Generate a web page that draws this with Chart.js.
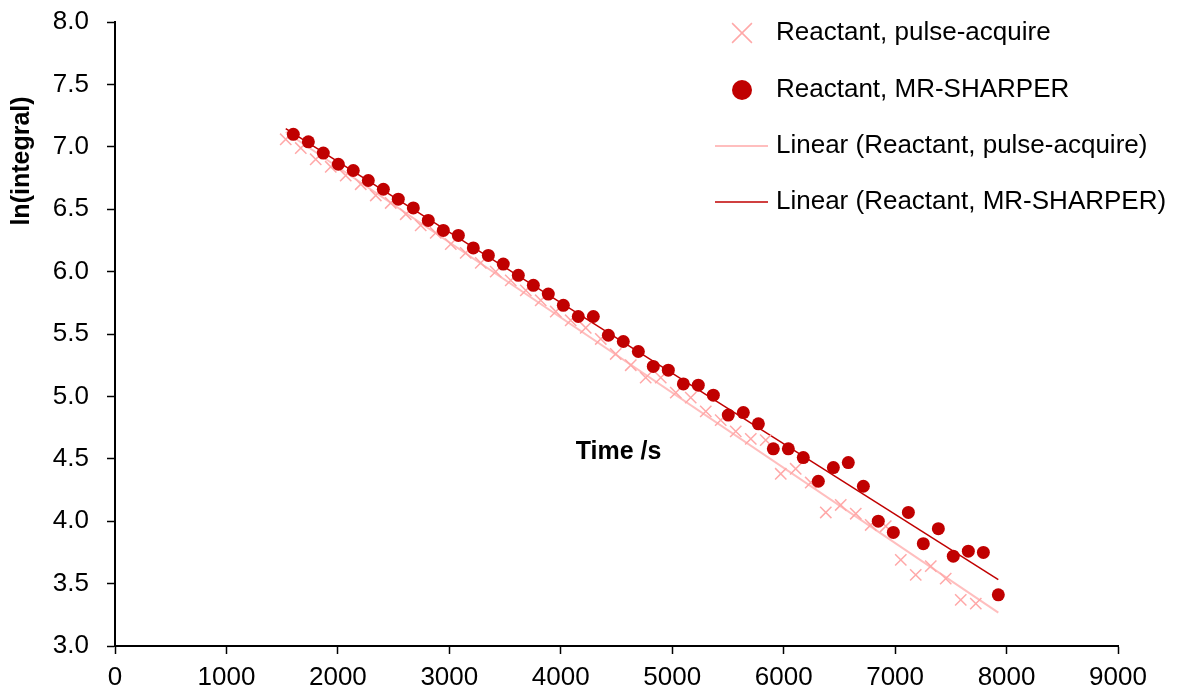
<!DOCTYPE html>
<html>
<head>
<meta charset="utf-8">
<script src="https://cdn.jsdelivr.net/npm/chart.js@4"></script>
<style>
    html, body { margin: 0; padding: 0; background: #fff; }
    #wrap { width: 1179px; height: 695px; position: relative; }
</style>
</head>
<body>
<div id="wrap"><canvas id="kineticsChart"></canvas></div>
<script>
// ln(integral) vs time for the reactant peak, two acquisition methods
const pulseTimes = [1532, 1667, 1801, 1936, 2070, 2205, 2340, 2474, 2609, 2743, 2878, 3013, 3147, 3282, 3416, 3551,
    3686, 3820, 3955, 4089, 4224, 4359, 4493, 4628, 4762, 4897, 5032, 5166, 5301, 5435, 5570, 5705,
    5839, 5974, 6108, 6243, 6378, 6512, 6647, 6781, 6916, 7051, 7185, 7320, 7454, 7589, 7724];
const pulseValues = [7.06, 6.99, 6.90, 6.84, 6.77, 6.70, 6.61, 6.55, 6.46, 6.37, 6.31, 6.22, 6.15, 6.07, 6.00, 5.93,
    5.85, 5.77, 5.68, 5.61, 5.55, 5.46, 5.34, 5.25, 5.15, 5.15, 5.03, 4.99, 4.88, 4.81, 4.72, 4.66,
    4.65, 4.38, 4.42, 4.31, 4.07, 4.13, 4.06, 3.97, 3.96, 3.69, 3.57, 3.64, 3.54, 3.37, 3.34];

const sharperTimes = [1600, 1735, 1869, 2004, 2138, 2273, 2408, 2542, 2677, 2811, 2946, 3081, 3215, 3350, 3484, 3619,
    3754, 3888, 4023, 4157, 4292, 4427, 4561, 4696, 4830, 4965, 5100, 5234, 5369, 5503, 5638, 5773,
    5907, 6042, 6176, 6311, 6446, 6580, 6715, 6849, 6984, 7119, 7253, 7388, 7522, 7657, 7792, 7926];
const sharperValues = [7.10, 7.04, 6.95, 6.86, 6.81, 6.73, 6.66, 6.58, 6.51, 6.41, 6.33, 6.29, 6.19, 6.13, 6.06, 5.97,
    5.89, 5.82, 5.73, 5.64, 5.64, 5.49, 5.44, 5.36, 5.24, 5.21, 5.10, 5.09, 5.01, 4.85, 4.87, 4.78,
    4.58, 4.58, 4.51, 4.32, 4.43, 4.47, 4.28, 4.00, 3.91, 4.07, 3.82, 3.94, 3.72, 3.76, 3.75, 3.41];

// span of the trendlines (s)
const fitRange = [1532, 7926];

const xTickValues = [0, 1000, 2000, 3000, 4000, 5000, 6000, 7000, 8000, 9000];
const yTickValues = [3.0, 3.5, 4.0, 4.5, 5.0, 5.5, 6.0, 6.5, 7.0, 7.5, 8.0];

const seriesNames = ['Reactant, pulse-acquire', 'Reactant, MR-SHARPER'];

const FONT = 'Liberation Sans, Arial, sans-serif';
const PINK = 'rgb(255, 168, 168)';
const PINK_LINE = 'rgb(255, 190, 190)';
const DARK_RED = 'rgb(192, 0, 0)';

function toPoints(xs, ys) {
    return xs.map((x, i) => ({ x: x, y: ys[i] }));
}

// least-squares straight line, evaluated at the ends of fitRange
function linearTrend(xs, ys) {
    const n = xs.length;
    let sx = 0, sy = 0, sxx = 0, sxy = 0;
    for (let i = 0; i < n; i++) {
        sx += xs[i]; sy += ys[i];
        sxx += xs[i] * xs[i]; sxy += xs[i] * ys[i];
    }
    const slope = (n * sxy - sx * sy) / (n * sxx - sx * sx);
    const intercept = (sy - slope * sx) / n;
    return fitRange.map(x => ({ x: x, y: intercept + slope * x }));
}

// keep the plot box where we put it: no extra room for end labels
function fixAxisPadding(axis) {
    axis.paddingTop = 0;
    axis.paddingBottom = 0;
    axis.paddingLeft = 0;
    axis.paddingRight = 0;
}

// axis titles and legend are placed by hand, the way the spreadsheet had them
const chartText = {
    id: 'chartText',
    afterDraw(chart) {
        const ctx = chart.ctx;
        const area = chart.chartArea;
        const ds = chart.data.datasets;
        ctx.save();
        ctx.fillStyle = '#000';
        ctx.textBaseline = 'middle';

        // y title
        ctx.font = 'bold 25px ' + FONT;
        ctx.save();
        ctx.translate(22, 161);
        ctx.rotate(-Math.PI / 2);
        ctx.textAlign = 'center';
        ctx.fillText('ln(integral)', 0, 0);
        ctx.restore();

        // x title sits inside the plot
        ctx.textAlign = 'center';
        ctx.fillText('Time /s', (area.left + area.right) / 2 + 2, 452);

        // legend
        ctx.font = '26px ' + FONT;
        ctx.textAlign = 'left';
        const textX = 776;
        const rows = [33, 90, 146, 202];
        const labels = [seriesNames[0], seriesNames[1],
            'Linear (' + seriesNames[0] + ')', 'Linear (' + seriesNames[1] + ')'];

        ctx.strokeStyle = ds[0].borderColor;
        ctx.lineWidth = ds[0].borderWidth;
        Chart.helpers.drawPoint(ctx, { pointStyle: 'crossRot', radius: 14, borderWidth: ds[0].borderWidth }, 742, rows[0]);

        ctx.fillStyle = ds[1].backgroundColor;
        ctx.strokeStyle = ds[1].borderColor;
        Chart.helpers.drawPoint(ctx, { pointStyle: 'circle', radius: 10, borderWidth: 0 }, 742, rows[1]);

        [2, 3].forEach(k => {
            ctx.beginPath();
            ctx.strokeStyle = ds[k].borderColor;
            ctx.lineWidth = ds[k].borderWidth;
            ctx.moveTo(715, rows[k]);
            ctx.lineTo(768, rows[k]);
            ctx.stroke();
        });

        ctx.fillStyle = '#000';
        labels.forEach((t, i) => ctx.fillText(t, textX, rows[i]));
        ctx.restore();
    }
};

Chart.defaults.font.family = FONT;
Chart.defaults.font.size = 26;
Chart.defaults.color = '#000';

const ctx = document.getElementById('kineticsChart').getContext('2d');
new Chart(ctx, {
    type: 'scatter',
    data: {
        datasets: [
            {
                label: seriesNames[0],
                data: toPoints(pulseTimes, pulseValues),
                pointStyle: 'crossRot',
                pointRadius: 8,
                borderColor: PINK,
                backgroundColor: PINK,
                borderWidth: 1.5,
                order: 2
            },
            {
                label: seriesNames[1],
                data: toPoints(sharperTimes, sharperValues),
                pointStyle: 'circle',
                pointRadius: 6.5,
                borderWidth: 0,
                borderColor: DARK_RED,
                backgroundColor: DARK_RED,
                order: 1
            },
            {
                label: 'Linear (' + seriesNames[0] + ')',
                data: linearTrend(pulseTimes, pulseValues),
                showLine: true,
                pointRadius: 0,
                borderColor: PINK_LINE,
                borderWidth: 2,
                order: 4
            },
            {
                label: 'Linear (' + seriesNames[1] + ')',
                data: linearTrend(sharperTimes, sharperValues),
                showLine: true,
                pointRadius: 0,
                borderColor: DARK_RED,
                borderWidth: 1.5,
                order: 3
            }
        ]
    },
    options: {
        responsive: true,
        maintainAspectRatio: false,
        animation: false,
        layout: { padding: { top: 22, right: 61, left: 0, bottom: 0 } },
        plugins: {
            legend: { display: false },
            tooltip: { enabled: false }
        },
        scales: {
            x: {
                type: 'linear',
                min: xTickValues[0],
                max: xTickValues[xTickValues.length - 1],
                afterBuildTicks: axis => { axis.ticks = xTickValues.map(v => ({ value: v })); },
                afterFit: axis => { axis.height = 49; fixAxisPadding(axis); },
                ticks: { padding: 8, maxRotation: 0, color: '#000', font: { size: 26 }, callback: v => String(v) },
                grid: { drawOnChartArea: false, tickLength: 8, tickWidth: 1.5, tickColor: '#000' },
                border: { color: '#000', width: 2 }
            },
            y: {
                type: 'linear',
                min: yTickValues[0],
                max: yTickValues[yTickValues.length - 1],
                afterBuildTicks: axis => { axis.ticks = yTickValues.map(v => ({ value: v })); },
                afterFit: axis => { axis.width = 115; fixAxisPadding(axis); },
                ticks: { padding: 18, color: '#000', font: { size: 26 }, callback: v => v.toFixed(1) },
                grid: { drawOnChartArea: false, tickLength: 8, tickWidth: 1.5, tickColor: '#000' },
                border: { color: '#000', width: 2 }
            }
        }
    },
    plugins: [chartText]
});
</script>
</body>
</html>
